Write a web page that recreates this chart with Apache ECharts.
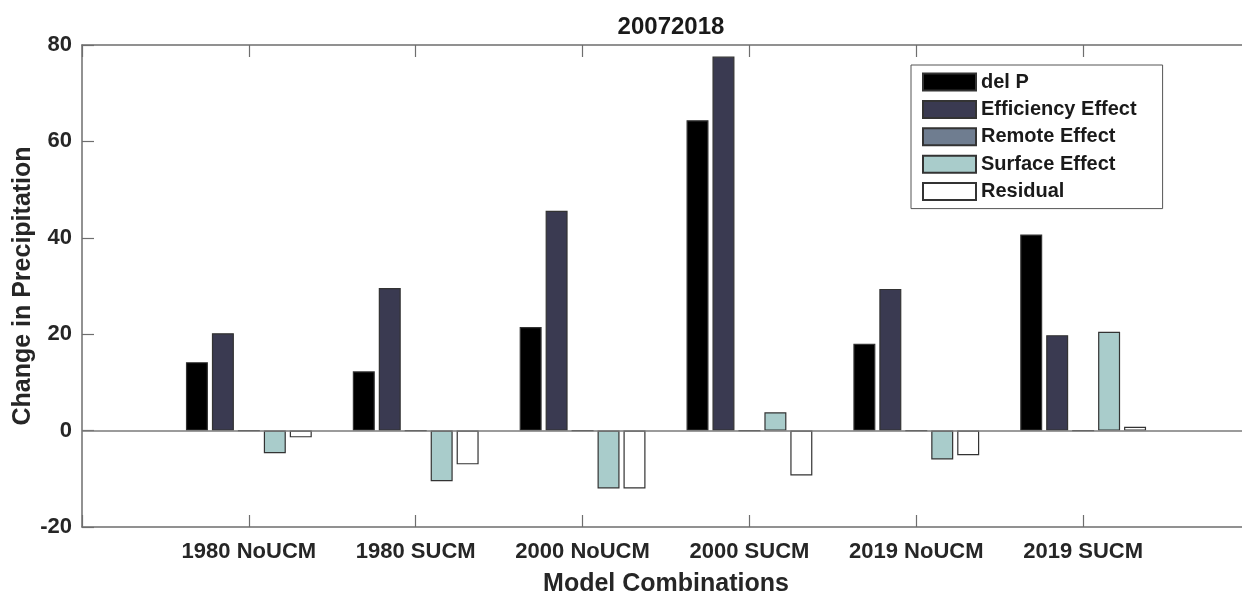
<!DOCTYPE html>
<html>
<head>
<meta charset="utf-8">
<script src="https://cdn.jsdelivr.net/npm/echarts@6/dist/echarts.min.js"></script>
<style>
  html, body { margin: 0; padding: 0; background: #ffffff; overflow: hidden; }
  #chart { width: 1250px; height: 596px; }
</style>
</head>
<body>
<div id="chart"></div>
<script>
const categories = ['1980 NoUCM', '1980 SUCM', '2000 NoUCM', '2000 SUCM', '2019 NoUCM', '2019 SUCM'];
const seriesNames = ['del P', 'Efficiency Effect', 'Remote Effect', 'Surface Effect', 'Residual'];
const delP = [14.2, 12.3, 21.5, 64.4, 18.0, 40.7];
const efficiencyEffect = [20.2, 29.6, 45.6, 77.6, 29.4, 19.8];
const remoteEffect = [0, 0, 0, 0, 0, 0];
const surfaceEffect = [-4.7, -10.5, -12.0, 3.8, -6.0, 20.5];
const residual = [-1.4, -7.0, -12.0, -9.3, -5.1, 0.8];
const yTicks = [-20, 0, 20, 40, 60, 80];
const titleText = '20072018';
const xName = 'Model Combinations';
const yName = 'Change in Precipitation';

const colors = ['#000000', '#3a3a51', '#6f7d90', '#a9cccb', '#ffffff'];
const values = [delP, efficiencyEffect, remoteEffect, surfaceEffect, residual];

// pad categories so the axis spans 0..7 like the original
const paddedCats = [''].concat(categories, ['']);
const pad = arr => [null].concat(arr, [null]);

const FONT = '"Liberation Sans", Arial, Helvetica, sans-serif';
const axisColor = '#6e6e6e';

const series = seriesNames.map((name, i) => {
  const s = {
    name: name,
    type: 'bar',
    data: pad(values[i]),
    barWidth: 22,
    barGap: '18%',
    itemStyle: { color: colors[i], borderColor: '#333333', borderWidth: 1.2 },
    emphasis: { disabled: true },
    animation: false
  };
  if (i === 0) {
    s.markLine = {
      silent: true,
      symbol: ['none', 'none'],
      label: { show: false },
      lineStyle: { type: 'solid', color: '#7a7a7a', width: 1.5 },
      data: [{ yAxis: 0 }],
      animation: false
    };
  }
  return s;
});

const chart = echarts.init(document.getElementById('chart'), null, { renderer: 'canvas' });
chart.setOption({
  backgroundColor: '#ffffff',
  animation: false,
  textStyle: { fontFamily: FONT },
  title: {
    text: titleText,
    left: 666,
    textAlign: 'center',
    top: 10,
    textStyle: { fontFamily: FONT, fontSize: 24, fontWeight: 'bold', color: '#1a1a1a' }
  },
  grid: { left: 82, right: 0, top: 45, bottom: 69, containLabel: false, outerBoundsMode: 'none' },
  legend: {
    orient: 'vertical',
    left: 911,
    top: 65,
    padding: [7, 26, 7, 11],
    itemWidth: 53,
    itemHeight: 17,
    itemGap: 7.4,
    icon: 'rect',
    backgroundColor: '#ffffff',
    borderColor: '#555555',
    borderWidth: 1,
    data: seriesNames,
    textStyle: { fontFamily: FONT, fontSize: 20, fontWeight: 'bold', color: '#1a1a1a', lineHeight: 20 }
  },
  xAxis: [
    {
      type: 'category',
      position: 'bottom',
      data: paddedCats,
      boundaryGap: false,
      name: xName,
      nameLocation: 'middle',
      nameGap: 45,
      nameTextStyle: { fontFamily: FONT, fontSize: 25, fontWeight: 'bold', color: '#262626' },
      axisLine: { onZero: false, lineStyle: { color: axisColor, width: 1.5 } },
      axisTick: { inside: true, length: 12, interval: 0, lineStyle: { color: axisColor, width: 1.2 } },
      axisLabel: { interval: 0, margin: 14, fontFamily: FONT, fontSize: 22, fontWeight: 'bold', color: '#262626' },
      splitLine: { show: false }
    },
    {
      type: 'category',
      position: 'top',
      data: paddedCats,
      boundaryGap: false,
      axisLine: { onZero: false, lineStyle: { color: axisColor, width: 1.5 } },
      axisTick: { inside: true, length: 12, interval: 0, lineStyle: { color: axisColor, width: 1.2 } },
      axisLabel: { show: false },
      splitLine: { show: false }
    }
  ],
  yAxis: [
    {
      type: 'value',
      min: yTicks[0],
      max: yTicks[yTicks.length - 1],
      interval: 20,
      name: yName,
      nameLocation: 'middle',
      nameGap: 46,
      nameMoveOverlap: false,
      nameTextStyle: { fontFamily: FONT, fontSize: 25, fontWeight: 'bold', color: '#262626' },
      axisLine: { show: true, onZero: false, lineStyle: { color: axisColor, width: 1.5 } },
      axisTick: { show: true, inside: true, length: 12, lineStyle: { color: axisColor, width: 1.2 } },
      axisLabel: { margin: 10, fontFamily: FONT, fontSize: 22, fontWeight: 'bold', color: '#262626' },
      splitLine: { show: false }
    }
  ],
  series: series
});
</script>
</body>
</html>
